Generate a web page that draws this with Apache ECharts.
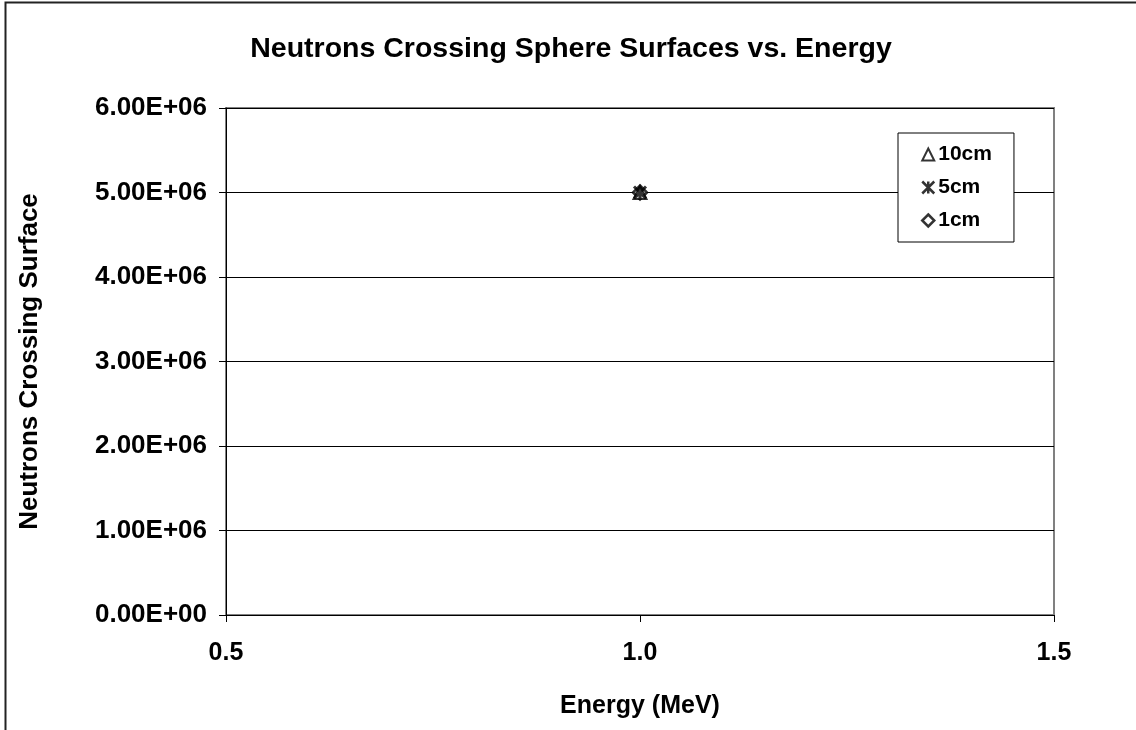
<!DOCTYPE html>
<html><head><meta charset="utf-8">
<script src="https://cdn.jsdelivr.net/npm/echarts@6/dist/echarts.min.js"></script>
<style>html,body{margin:0;padding:0;background:#fff}#c{width:1136px;height:730px}</style>
</head><body><div id="c"></div>
<script>
const seriesNames = ['10cm', '5cm', '1cm'];
const energy10 = [1.0], counts10 = [5.0e6];
const energy5 = [1.0], counts5 = [5.0e6];
const energy1 = [1.0], counts1 = [5.0e6];
const xTicks = [0.5, 1.0, 1.5];
const yTicks = [0, 1e6, 2e6, 3e6, 4e6, 5e6, 6e6];

const ASTER = 'path://M0,0L10,10M10,0L0,10M5,0L5,10';
function fmtE(v){
  if (v === 0) return '0.00E+00';
  const e = Math.floor(Math.log10(Math.abs(v)));
  const m = v / Math.pow(10, e);
  const s = e < 0 ? '-' : '+';
  return m.toFixed(2) + 'E' + s + String(Math.abs(e)).padStart(2, '0');
}
function pts(xs, ys){ return xs.map((x,i)=>[x, ys[i]]); }
const font = 'Arial, "Liberation Sans", sans-serif';
const chart = echarts.init(document.getElementById('c'));
chart.setOption({
  backgroundColor: '#fff',
  animation: false,
  title: {
    text: 'Neutrons Crossing Sphere Surfaces vs. Energy',
    left: 566, top: 30, textAlign: 'center',
    textStyle: {fontFamily: font, fontWeight: 'bold', fontSize: 28.5, color: '#000'}
  },
  graphic: [{type: 'rect', shape: {x: 5.5, y: 2.5, width: 1200, height: 800},
    style: {fill: 'none', stroke: '#222', lineWidth: 2}, silent: true, z: -10}],
  grid: {left: 226, right: 82, top: 108, bottom: 115, show: true, borderColor: '#808080', borderWidth: 2, backgroundColor: 'transparent'},
  legend: {
    orient: 'vertical', left: 898, top: 133,
    backgroundColor: '#fff', borderColor: '#000', borderWidth: 1,
    padding: [11, 22, 11, 23], itemGap: 12, itemWidth: 12, itemHeight: 12,
    textStyle: {fontFamily: font, fontWeight: 'bold', fontSize: 21, color: '#000', padding: [0,0,0,-1]},
    data: [
      {name: seriesNames[0], icon: 'triangle', itemStyle: {color: '#fff', borderColor: '#000', borderWidth: 2}},
      {name: seriesNames[1], icon: ASTER, itemStyle: {color: '#000', borderColor: '#000', borderWidth: 2.5}},
      {name: seriesNames[2], icon: 'diamond', itemStyle: {color: '#fff', borderColor: '#000', borderWidth: 2.5}}
    ]
  },
  xAxis: {
    type: 'value', min: 0.5, max: 1.5, interval: 0.5,
    name: 'Energy (MeV)', nameLocation: 'middle', nameGap: 79,
    nameTextStyle: {fontFamily: font, fontWeight: 'bold', fontSize: 25, color: '#000'},
    axisLine: {lineStyle: {color: '#000', width: 1}},
    axisTick: {show: true, length: 7, lineStyle: {color: '#000'}},
    axisLabel: {fontFamily: font, fontWeight: 'bold', fontSize: 25, color: '#000', margin: 26,
      formatter: v => xTicks.includes(+v.toFixed(1)) ? v.toFixed(1) : ''},
    splitLine: {show: false}
  },
  yAxis: {
    type: 'value', min: 0, max: 6e6, interval: 1e6,
    name: 'Neutrons Crossing Surface', nameLocation: 'middle', nameGap: 183,
    nameTextStyle: {fontFamily: font, fontWeight: 'bold', fontSize: 26, color: '#000'},
    axisLine: {show: true, lineStyle: {color: '#000', width: 1}},
    axisTick: {show: true, length: 7, lineStyle: {color: '#000'}},
    axisLabel: {fontFamily: font, fontWeight: 'bold', fontSize: 26, color: '#000', margin: 19,
      formatter: v => yTicks.includes(v) ? fmtE(v) : ''},
    splitLine: {show: true, lineStyle: {color: '#000', width: 1}}
  },
  series: [
    {name: seriesNames[0], type: 'scatter', data: pts(energy10, counts10), symbol: 'triangle', symbolSize: 13,
      itemStyle: {color: '#fff', borderColor: '#000', borderWidth: 2}, z: 3},
    {name: seriesNames[1], type: 'scatter', data: pts(energy5, counts5), symbol: ASTER, symbolSize: 12,
      itemStyle: {color: '#000', borderColor: '#000', borderWidth: 3}, z: 4},
    {name: seriesNames[2], type: 'scatter', data: pts(energy1, counts1), symbol: 'diamond', symbolSize: 14,
      itemStyle: {color: '#fff', borderColor: '#000', borderWidth: 2.5}, z: 2}
  ]
});
</script></body></html>
